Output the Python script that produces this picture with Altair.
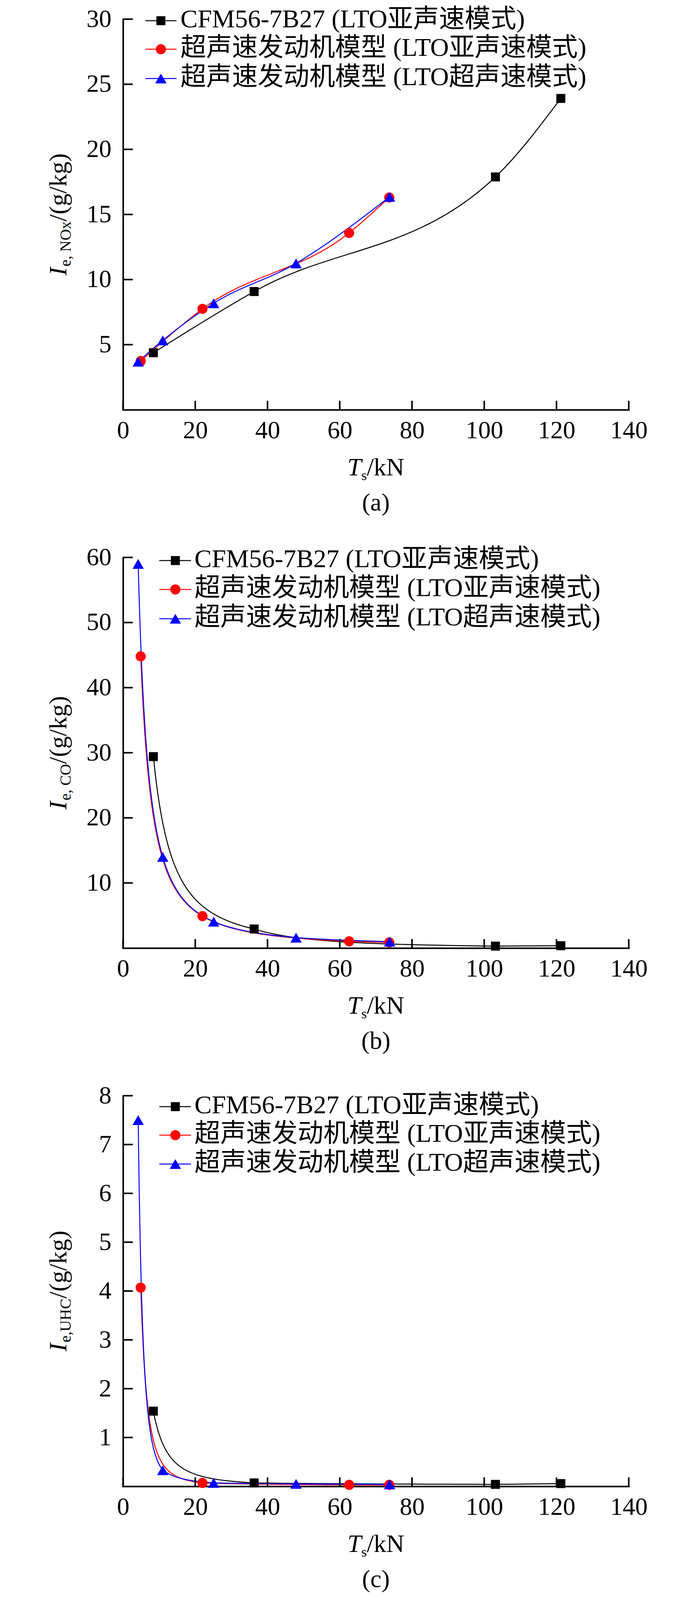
import altair as alt
import pandas as pd

# ---------------- data ----------------
SERIES = ["CFM56-7B27 (LTO亚声速模式)",
          "超声速发动机模型 (LTO亚声速模式)",
          "超声速发动机模型 (LTO超声速模式)"]
COLORS = ["#000000", "#ff0000", "#0000ff"]
SHAPES = ["square", "circle", "triangle-up"]
SIZES = [529, 676, 841]

x_cfm = [8.4, 36.3, 103.1, 121.2]
x_sub = [4.9, 22.0, 62.6, 73.7]
x_sup = [4.2, 11.0, 25.1, 47.9, 73.8]

nox_cfm = [4.38, 9.08, 17.88, 23.91]
nox_sub = [3.74, 7.75, 13.58, 16.30]
nox_sup = [3.69, 5.33, 8.18, 11.24, 16.35]

co_cfm = [29.4, 2.93, 0.30, 0.36]
co_sub = [44.8, 4.90, 1.03, 0.87]
co_sup = [59.0, 14.0, 4.06, 1.60, 0.98]

uhc_cfm = [1.54, 0.07, 0.04, 0.056]
uhc_sub = [4.07, 0.07, 0.03, 0.03]
uhc_sup = [7.50, 0.33, 0.07, 0.05, 0.04]

x_ticks = [0, 20, 40, 60, 80, 100, 120, 140]
y_ticks_a = [5, 10, 15, 20, 25, 30]
y_ticks_b = [10, 20, 30, 40, 50, 60]
y_ticks_c = [1, 2, 3, 4, 5, 6, 7, 8]

subs = ["e, NOx", "e, CO", "e,UHC"]
panel_labels = ["(a)", "(b)", "(c)"]

# ---------------- layout / style ----------------
W, H = 1295, 1000
GAP = 378
SERIF = "Liberation Serif"
MIXED = "Liberation Serif, Noto Sans CJK SC"
FS = 64
LEGFS = 66
SUBFS = 40
LW = 2.5

# approximate glyph advances (Times metrics, em units)
ADV = {"e": .444, ",": .25, " ": .25, "N": .722, "O": .722, "x": .5,
       "C": .667, "U": .722, "H": .722}


def one(**kw):
    return pd.DataFrame({k: [v] for k, v in kw.items()})


def segments(xs, ys):
    rows = []
    for k in range(len(xs) - 1):
        rows.append({"seg": k, "x": xs[k], "y": ys[k]})
        rows.append({"seg": k, "x": xs[k + 1], "y": ys[k + 1]})
    return pd.DataFrame(rows)


def panel(ys, ydom, yticks, sub, leg_y, leg_x, label, decay, anchor=False):
    xs = [x_cfm, x_sub, x_sup]
    xsc = alt.Scale(domain=[0, 140], nice=False, zero=False)
    ysc = alt.Scale(domain=ydom, nice=False, zero=False)
    xaxis = alt.Axis(values=x_ticks, title=None, grid=False, ticks=False, tickSize=0,
                     domain=True, domainColor="black", domainWidth=4, domainCap="square",
                     labelFont=SERIF, labelFontSize=FS, labelColor="black",
                     labelPadding=21, labelFlush=False, labelOverlap=False, format="d")
    yaxis = alt.Axis(values=yticks, title=None, grid=False, ticks=False, tickSize=0,
                     domain=True, domainColor="black", domainWidth=4, domainCap="square",
                     labelFont=SERIF, labelFontSize=FS, labelColor="black",
                     labelPadding=30, labelFlush=False, labelOverlap=False, format="d")
    X = alt.X("x:Q", scale=xsc, axis=xaxis)
    Y = alt.Y("y:Q", scale=ysc, axis=yaxis)
    layers = []
    # curves
    for i in range(3):
        if decay:
            # power-law curve between each pair of neighbouring points
            c = (alt.Chart(segments(xs[i], ys[i]))
                 .transform_regression("x", "y", method="pow", groupby=["seg"])
                 .mark_line(color=COLORS[i], strokeWidth=LW)
                 .encode(x=X, y=Y, detail="seg:N"))
        else:
            c = (alt.Chart(pd.DataFrame({"x": xs[i], "y": ys[i]}))
                 .mark_line(interpolate="monotone", color=COLORS[i], strokeWidth=LW)
                 .encode(x=X, y=Y))
        layers.append(c)
    # markers
    for i in range(3):
        df = pd.DataFrame({"x": xs[i], "y": ys[i]})
        layers.append(alt.Chart(df).mark_point(filled=True, shape=SHAPES[i], size=SIZES[i],
                                               color=COLORS[i], opacity=1, strokeWidth=0)
                      .encode(x=X, y=Y))
    # inward ticks
    layers.append(alt.Chart(pd.DataFrame({"t": x_ticks})).mark_rule(color="black", strokeWidth=4)
                  .encode(x=alt.X("t:Q", scale=xsc, axis=xaxis),
                          y=alt.value(H), y2=alt.value(H - 23)))
    layers.append(alt.Chart(pd.DataFrame({"t": yticks})).mark_rule(color="black", strokeWidth=4)
                  .encode(y=alt.Y("t:Q", scale=ysc, axis=yaxis),
                          x=alt.value(0), x2=alt.value(25)))
    # legend
    lx0, lx1, mx, tx = leg_x
    for i in range(3):
        ry = leg_y[i]
        d = one(name=SERIES[i])
        layers.append(alt.Chart(d).mark_rule(color=COLORS[i], strokeWidth=LW)
                      .encode(x=alt.value(lx0), x2=alt.value(lx1), y=alt.value(ry)))
        layers.append(alt.Chart(d).mark_point(filled=True, shape=SHAPES[i], size=SIZES[i],
                                              color=COLORS[i], opacity=1, strokeWidth=0)
                      .encode(x=alt.value(mx), y=alt.value(ry)))
        layers.append(alt.Chart(d).mark_text(align="left", baseline="middle", font=MIXED,
                                             fontSize=LEGFS, color="black")
                      .encode(x=alt.value(tx), y=alt.value(ry - 3), text="name:N"))
    # y title: I_{sub}/(g/kg), rotated
    w_I = 0.333 * FS
    w_sub = sum(ADV.get(c, .5) for c in sub) * SUBFS
    w_main = 2.722 * FS
    tot = w_I + 2 + w_sub + w_main
    y_I = H / 2 + tot / 2
    y_sub = y_I - w_I - 2
    y_main = y_sub - w_sub
    layers.append(alt.Chart(one(t="I")).mark_text(align="left", baseline="alphabetic", angle=270,
                                                  font=SERIF, fontSize=FS, fontStyle="italic",
                                                  color="black")
                  .encode(x=alt.value(-145), y=alt.value(y_I), text="t:N"))
    layers.append(alt.Chart(one(t=sub)).mark_text(align="left", baseline="alphabetic", angle=270,
                                                  font=SERIF, fontSize=SUBFS, color="black")
                  .encode(x=alt.value(-134), y=alt.value(y_sub), text="t:N"))
    layers.append(alt.Chart(one(t="/(g/kg)")).mark_text(align="left", baseline="alphabetic",
                                                        angle=270, font=SERIF, fontSize=FS,
                                                        color="black")
                  .encode(x=alt.value(-145), y=alt.value(y_main), text="t:N"))
    # x title: T_s/kN
    w_T = 0.556 * FS
    w_s = 0.389 * 36
    w_kn = 1.5 * FS
    x0 = W / 2 - (w_T + w_s + w_kn) / 2
    layers.append(alt.Chart(one(t="T")).mark_text(align="left", baseline="alphabetic", font=SERIF,
                                                  fontSize=FS, fontStyle="italic", color="black")
                  .encode(x=alt.value(x0), y=alt.value(H + 168), text="t:N"))
    layers.append(alt.Chart(one(t="s")).mark_text(align="left", baseline="alphabetic", font=SERIF,
                                                  fontSize=36, color="black")
                  .encode(x=alt.value(x0 + w_T), y=alt.value(H + 180), text="t:N"))
    layers.append(alt.Chart(one(t="/kN")).mark_text(align="left", baseline="alphabetic", font=SERIF,
                                                    fontSize=FS, color="black")
                  .encode(x=alt.value(x0 + w_T + w_s), y=alt.value(H + 168), text="t:N"))
    # panel label
    layers.append(alt.Chart(one(t=label)).mark_text(align="center", baseline="alphabetic",
                                                    font=SERIF, fontSize=FS, color="black")
                  .encode(x=alt.value(W / 2), y=alt.value(H + 258), text="t:N"))
    if anchor:
        layers.append(alt.Chart(one(t="")).mark_rule(opacity=0, strokeWidth=1)
                      .encode(x=alt.value(-306.5), x2=alt.value(-305.5), y=alt.value(-40.5)))
    return alt.layer(*layers).properties(width=W, height=H)


pa = panel([nox_cfm, nox_sub, nox_sup], [0, 30], y_ticks_a, subs[0],
           [4, 77, 152], (57, 137, 97, 147), panel_labels[0], decay=False, anchor=True)
pb = panel([co_cfm, co_sub, co_sup], [0, 60], y_ticks_b, subs[1],
           [8, 82, 157], (93, 174, 134, 183), panel_labels[1], decay=True)
pc = panel([uhc_cfm, uhc_sub, uhc_sup], [0, 8], y_ticks_c, subs[2],
           [28, 101, 175], (93, 174, 134, 183), panel_labels[2], decay=True)

chart = (alt.vconcat(pa, pb, pc, spacing=GAP, bounds="flush")
         .properties(padding=0, background="white")
         .configure_view(stroke=None))

chart.save("out.html", embed_options={"renderer": "svg", "actions": False})
